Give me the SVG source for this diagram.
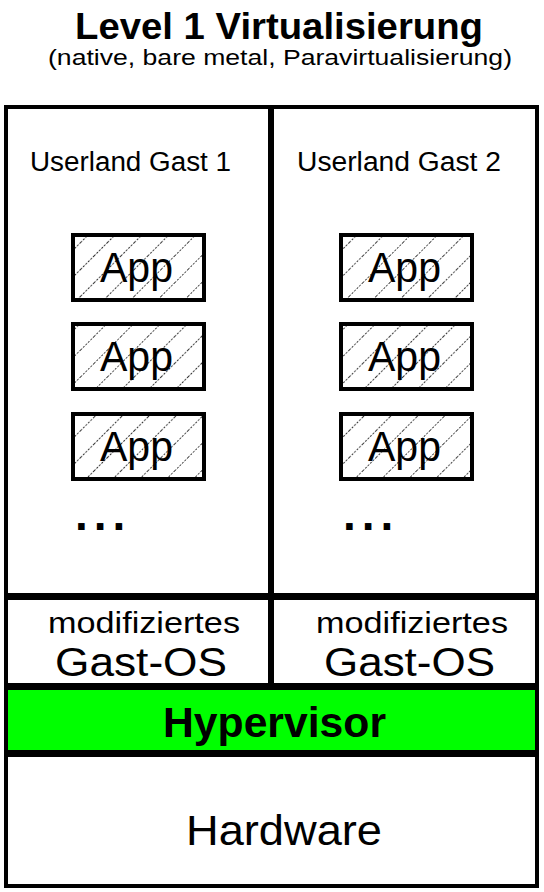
<svg xmlns="http://www.w3.org/2000/svg" width="544" height="892" viewBox="0 0 544 892">
<style>
  text { font-family: "Liberation Sans", Arial, sans-serif; fill: #000; }
  .box { fill: #fff; stroke: #000; stroke-width: 4; }
  .app { fill: url(#hatch); stroke: #000; stroke-width: 4; }
  .apptxt { font-size: 42px; }
  .user { font-size: 27px; }
  .mod { font-size: 30px; }
  .os { font-size: 40px; }
  .dots { font-size: 46px; font-weight: bold; letter-spacing: 6px; }
</style>
<defs>
  <pattern id="hatch" width="19" height="19" patternUnits="userSpaceOnUse" patternTransform="rotate(45)">
    <rect width="19" height="19" fill="#fff"/>
    <line x1="0" y1="0" x2="0" y2="19" stroke="#222" stroke-width="1.8" stroke-dasharray="2 1.5"/>
  </pattern>
</defs>
<rect width="544" height="892" fill="#fff"/>
<g id="title">
  <text x="279" y="39" font-size="36" font-weight="bold" text-anchor="middle" textLength="408" lengthAdjust="spacingAndGlyphs">Level 1 Virtualisierung</text>
  <text x="280" y="65" font-size="22" text-anchor="middle" textLength="464" lengthAdjust="spacingAndGlyphs">(native, bare metal, Paravirtualisierung)</text>
</g>
<g id="userland1">
  <rect class="box" x="6" y="107" width="264" height="488"/>
  <text class="user" x="30" y="171" textLength="201" lengthAdjust="spacingAndGlyphs">Userland Gast 1</text>
</g>
<g id="userland2">
  <rect class="box" x="272" y="107" width="265" height="488"/>
  <text class="user" x="297" y="171" textLength="204" lengthAdjust="spacingAndGlyphs">Userland Gast 2</text>
</g>
<g id="app1a">
  <rect class="app" x="73" y="235" width="131" height="65"/>
  <text class="apptxt" x="100" y="282" textLength="73" lengthAdjust="spacingAndGlyphs">App</text>
</g>
<g id="app1b">
  <rect class="app" x="73" y="324" width="131" height="65"/>
  <text class="apptxt" x="100" y="371" textLength="73" lengthAdjust="spacingAndGlyphs">App</text>
</g>
<g id="app1c">
  <rect class="app" x="73" y="414" width="131" height="65"/>
  <text class="apptxt" x="100" y="461" textLength="73" lengthAdjust="spacingAndGlyphs">App</text>
</g>
<g id="app2a">
  <rect class="app" x="341" y="235" width="131" height="65"/>
  <text class="apptxt" x="368" y="282" textLength="73" lengthAdjust="spacingAndGlyphs">App</text>
</g>
<g id="app2b">
  <rect class="app" x="341" y="324" width="131" height="65"/>
  <text class="apptxt" x="368" y="371" textLength="73" lengthAdjust="spacingAndGlyphs">App</text>
</g>
<g id="app2c">
  <rect class="app" x="341" y="414" width="131" height="65"/>
  <text class="apptxt" x="368" y="461" textLength="73" lengthAdjust="spacingAndGlyphs">App</text>
</g>
<g id="dots1">
  <text class="dots" x="75" y="530">...</text>
</g>
<g id="dots2">
  <text class="dots" x="343" y="530">...</text>
</g>
<g id="gastos1">
  <rect class="box" x="6" y="598" width="264" height="87"/>
  <text class="mod" x="48" y="633" textLength="192" lengthAdjust="spacingAndGlyphs">modifiziertes</text>
  <text class="os" x="55" y="676" textLength="172" lengthAdjust="spacingAndGlyphs">Gast-OS</text>
</g>
<g id="gastos2">
  <rect class="box" x="272" y="598" width="265" height="87"/>
  <text class="mod" x="316" y="633" textLength="192" lengthAdjust="spacingAndGlyphs">modifiziertes</text>
  <text class="os" x="324" y="676" textLength="171" lengthAdjust="spacingAndGlyphs">Gast-OS</text>
</g>
<g id="hypervisor">
  <rect x="6" y="688" width="531" height="64" fill="#00ff00" stroke="#000" stroke-width="4"/>
  <text x="163" y="737" font-size="42" font-weight="bold" textLength="223" lengthAdjust="spacingAndGlyphs">Hypervisor</text>
</g>
<g id="hardware">
  <rect class="box" x="6" y="755" width="531" height="131"/>
  <text x="186" y="845" font-size="43" textLength="196" lengthAdjust="spacingAndGlyphs">Hardware</text>
</g>
<g id="connectors"></g>
</svg>
